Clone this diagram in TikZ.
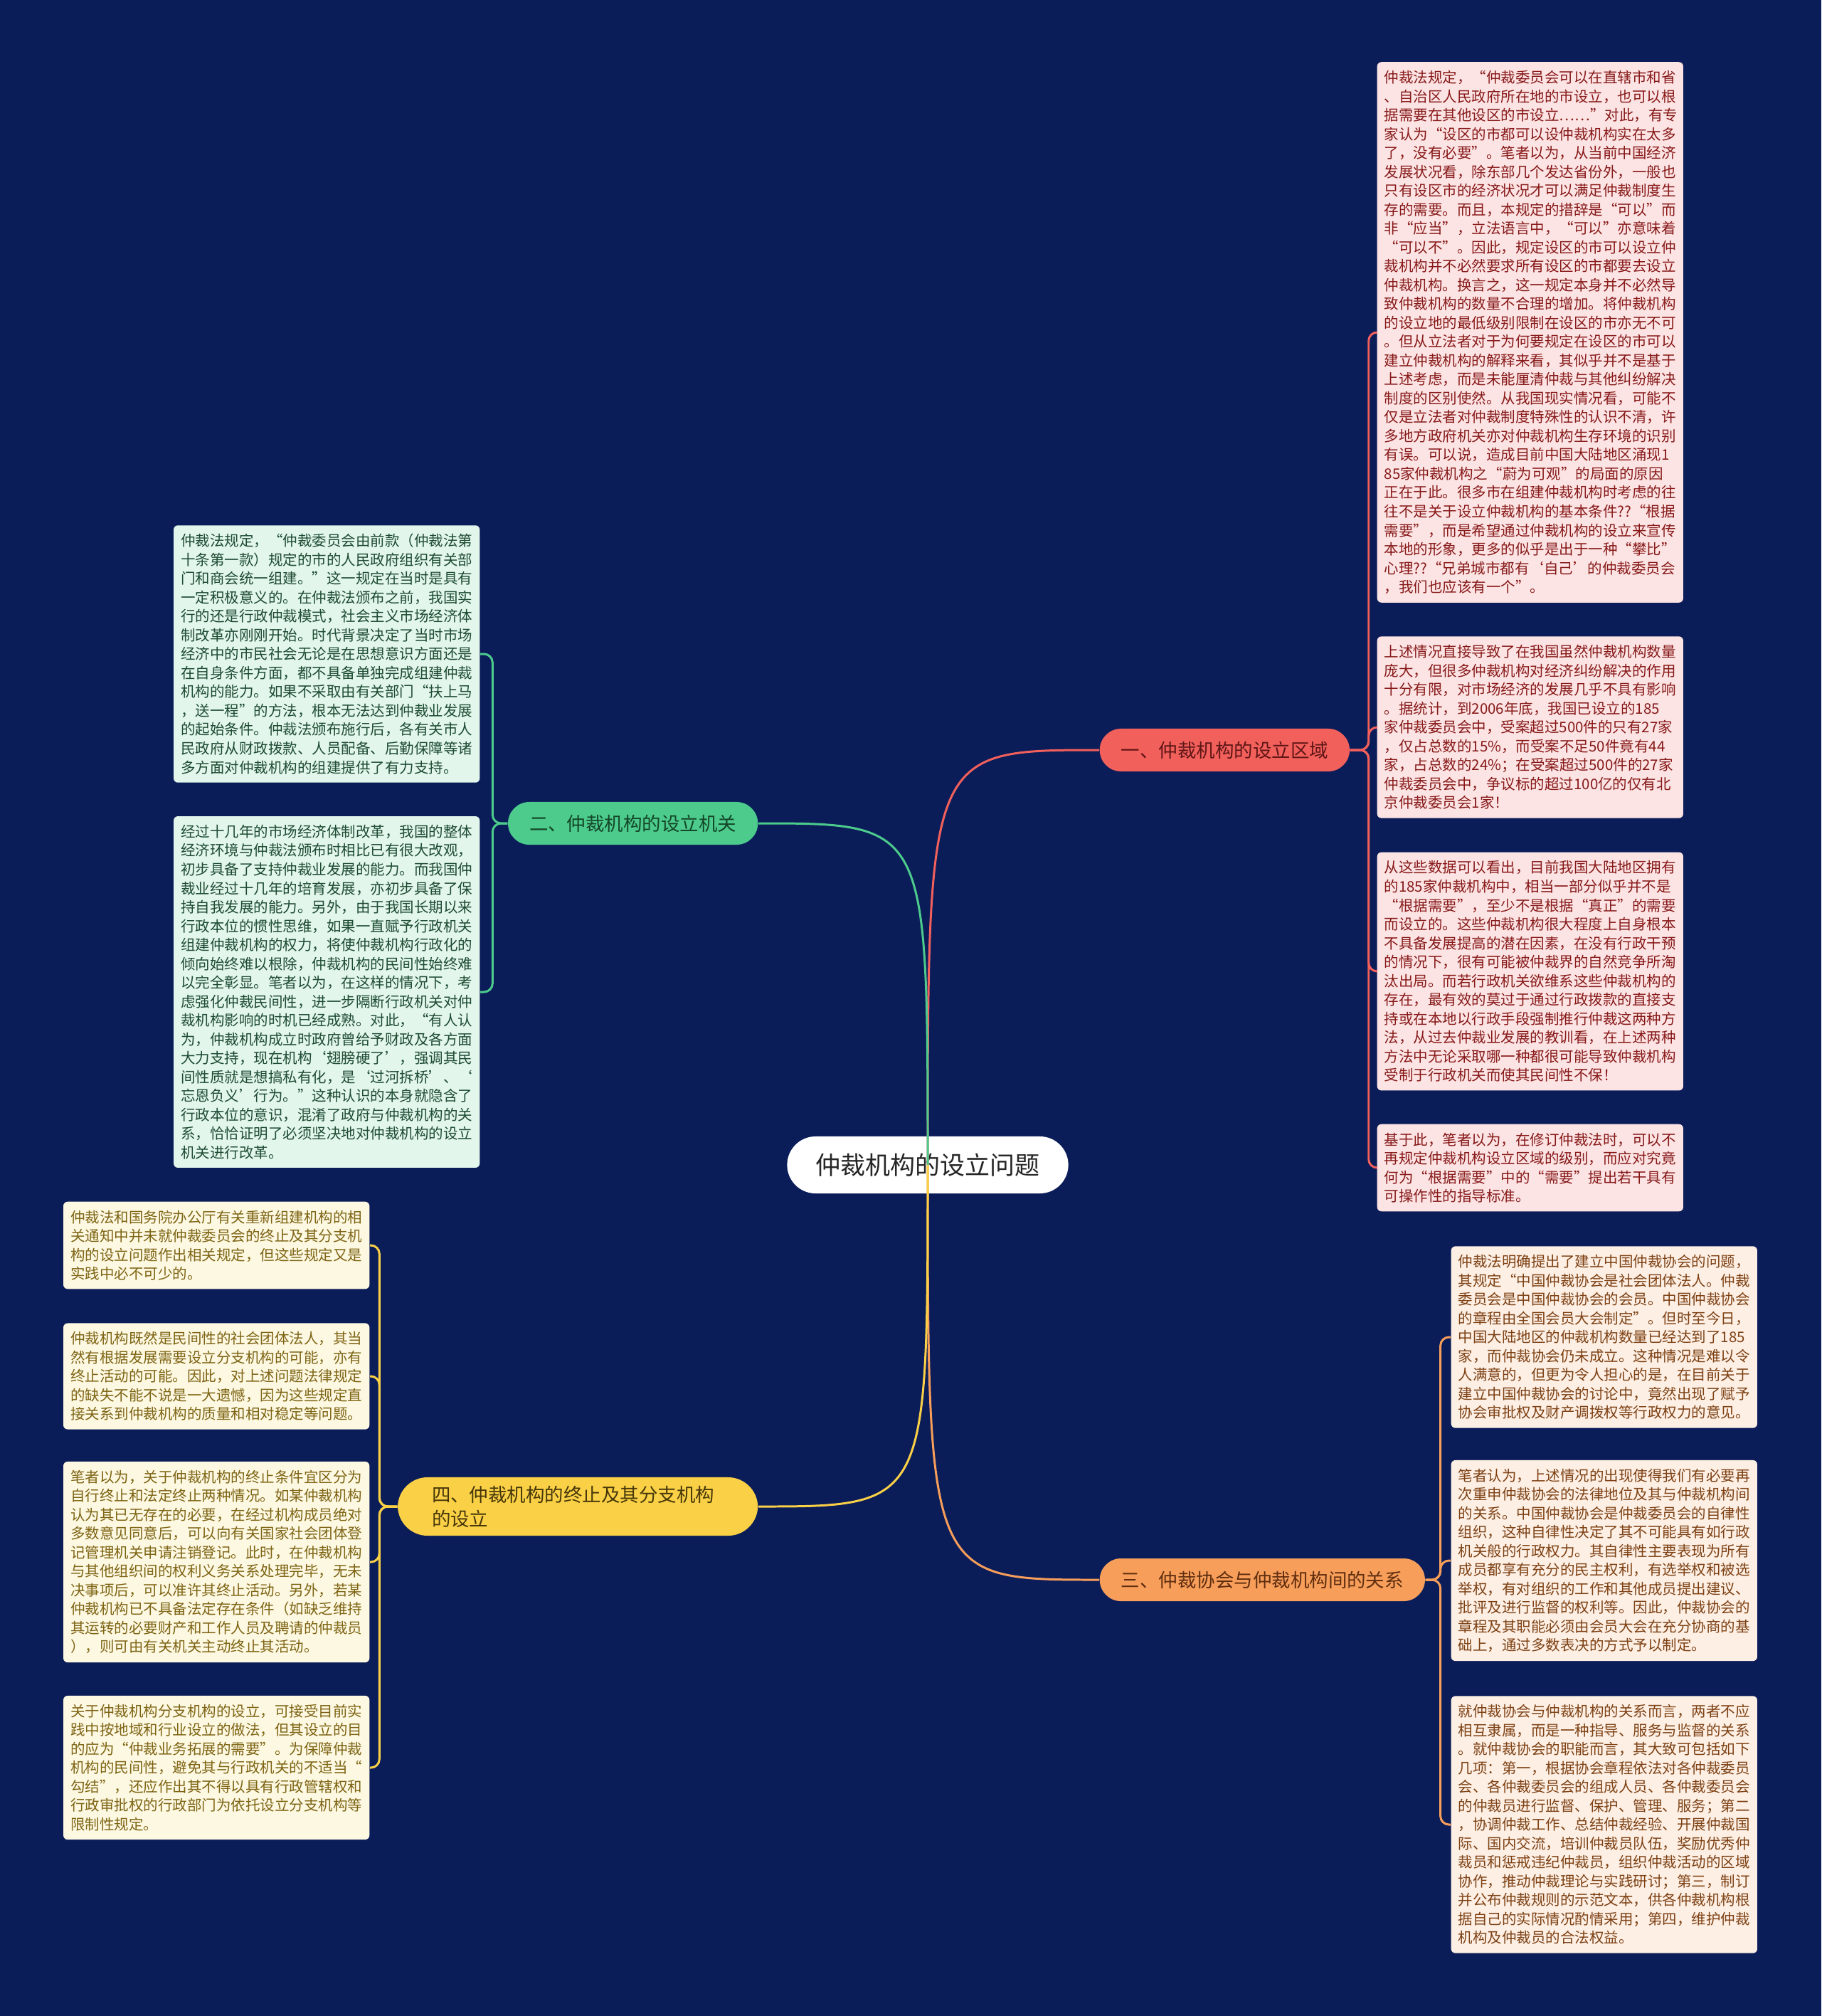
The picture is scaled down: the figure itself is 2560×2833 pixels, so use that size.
\documentclass[tikz,border=0pt]{standalone}
\usepackage{fontspec}
\newfontfamily\cjk{Noto Sans CJK SC}
\definecolor{bgnavy}{RGB}{11,29,89}
\definecolor{redmain}{RGB}{242,96,92}
\definecolor{redleaf}{RGB}{253,228,228}
\definecolor{redtext}{RGB}{135,25,25}
\definecolor{redlabel}{RGB}{95,22,22}
\definecolor{greenmain}{RGB}{76,203,140}
\definecolor{greenleaf}{RGB}{226,246,236}
\definecolor{greentext}{RGB}{30,75,50}
\definecolor{greenlabel}{RGB}{20,70,40}
\definecolor{orangemain}{RGB}{247,158,90}
\definecolor{orangeleaf}{RGB}{253,239,228}
\definecolor{orangetext}{RGB}{125,65,20}
\definecolor{orangelabel}{RGB}{95,45,15}
\definecolor{yellowmain}{RGB}{250,208,70}
\definecolor{yellowleaf}{RGB}{253,248,225}
\definecolor{yellowtext}{RGB}{125,100,20}
\definecolor{yellowlabel}{RGB}{70,55,10}
\tikzset{
  rootnode/.style={fill=white, text=black!85, rounded corners=0.4cm, minimum height=0.8cm, inner xsep=0.4cm, font=\cjk\fontsize{9.96pt}{12pt}\selectfont},
  branch/.style={rounded corners=0.3cm, minimum height=0.6cm, inner xsep=0.3cm, font=\cjk\fontsize{7.53pt}{9.7pt}\selectfont},
  leaf/.style={rounded corners=0.06cm, text width=4.1cm, align=left, inner xsep=0.1cm, inner ysep=0.12cm, font=\cjk\fontsize{5.83pt}{7.54pt}\selectfont},
  link/.style={line width=0.85pt},
}
\begin{document}
\begin{tikzpicture}[x=0.01cm, y=-0.01cm]
            \fill[bgnavy] (0,0) rectangle (2560,2833);

            \node[rootnode] (root) at (1304,1637) {仲裁机构的设立问题};
            \node[branch, fill=redmain, text=redlabel, anchor=west] (quyu) at (1545,1054) {一、仲裁机构的设立区域};
            \node[branch, fill=greenmain, text=greenlabel, anchor=east] (jiguan) at (1066,1157) {二、仲裁机构的设立机关};
            \node[branch, fill=orangemain, text=orangelabel, anchor=west] (xiehui) at (1545,2220) {三、仲裁协会与仲裁机构间的关系};
            \node[branch, fill=yellowmain, text=yellowlabel, anchor=east, text width=4.1cm, align=left, inner xsep=0.48cm, rounded corners=0.42cm] (zhongzhi) at (1066,2117) {四、仲裁机构的终止及其分支机构\\的设立};

            \node[leaf, fill=redleaf, text=redtext, anchor=west] (quyu1) at (1935,467) {仲裁法规定，“仲裁委员会可以在直辖市和省\\
、自治区人民政府所在地的市设立，也可以根\\
据需要在其他设区的市设立……”对此，有专\\
家认为“设区的市都可以设仲裁机构实在太多\\
了，没有必要”。笔者以为，从当前中国经济\\
发展状况看，除东部几个发达省份外，一般也\\
只有设区市的经济状况才可以满足仲裁制度生\\
存的需要。而且，本规定的措辞是“可以”而\\
非“应当”，立法语言中，“可以”亦意味着\\
“可以不”。因此，规定设区的市可以设立仲\\
裁机构并不必然要求所有设区的市都要去设立\\
仲裁机构。换言之，这一规定本身并不必然导\\
致仲裁机构的数量不合理的增加。将仲裁机构\\
的设立地的最低级别限制在设区的市亦无不可\\
。但从立法者对于为何要规定在设区的市可以\\
建立仲裁机构的解释来看，其似乎并不是基于\\
上述考虑，而是未能厘清仲裁与其他纠纷解决\\
制度的区别使然。从我国现实情况看，可能不\\
仅是立法者对仲裁制度特殊性的认识不清，许\\
多地方政府机关亦对仲裁机构生存环境的识别\\
有误。可以说，造成目前中国大陆地区涌现1\\
85家仲裁机构之“蔚为可观”的局面的原因\\
正在于此。很多市在组建仲裁机构时考虑的往\\
往不是关于设立仲裁机构的基本条件??“根据\\
需要”，而是希望通过仲裁机构的设立来宣传\\
本地的形象，更多的似乎是出于一种“攀比”\\
心理??“兄弟城市都有‘自己’的仲裁委员会\\
，我们也应该有一个”。};
            \node[leaf, fill=redleaf, text=redtext, anchor=west] (quyu2) at (1935,1022) {上述情况直接导致了在我国虽然仲裁机构数量\\
庞大，但很多仲裁机构对经济纠纷解决的作用\\
十分有限，对市场经济的发展几乎不具有影响\\
。据统计，到2006年底，我国已设立的185\\
家仲裁委员会中，受案超过500件的只有27家\\
，仅占总数的15\%，而受案不足50件竟有44\\
家，占总数的24\%；在受案超过500件的27家\\
仲裁委员会中，争议标的超过100亿的仅有北\\
京仲裁委员会1家！};
            \node[leaf, fill=redleaf, text=redtext, anchor=west] (quyu3) at (1935,1365) {从这些数据可以看出，目前我国大陆地区拥有\\
的185家仲裁机构中，相当一部分似乎并不是\\
“根据需要”，至少不是根据“真正”的需要\\
而设立的。这些仲裁机构很大程度上自身根本\\
不具备发展提高的潜在因素，在没有行政干预\\
的情况下，很有可能被仲裁界的自然竞争所淘\\
汰出局。而若行政机关欲维系这些仲裁机构的\\
存在，最有效的莫过于通过行政拨款的直接支\\
持或在本地以行政手段强制推行仲裁这两种方\\
法，从过去仲裁业发展的教训看，在上述两种\\
方法中无论采取哪一种都很可能导致仲裁机构\\
受制于行政机关而使其民间性不保！};
            \node[leaf, fill=redleaf, text=redtext, anchor=west] (quyu4) at (1935,1641) {基于此，笔者以为，在修订仲裁法时，可以不\\
再规定仲裁机构设立区域的级别，而应对究竟\\
何为“根据需要”中的“需要”提出若干具有\\
可操作性的指导标准。};

            \node[leaf, fill=greenleaf, text=greentext, anchor=east] (jiguan1) at (675,919) {仲裁法规定，“仲裁委员会由前款（仲裁法第\\
十条第一款）规定的市的人民政府组织有关部\\
门和商会统一组建。”这一规定在当时是具有\\
一定积极意义的。在仲裁法颁布之前，我国实\\
行的还是行政仲裁模式，社会主义市场经济体\\
制改革亦刚刚开始。时代背景决定了当时市场\\
经济中的市民社会无论是在思想意识方面还是\\
在自身条件方面，都不具备单独完成组建仲裁\\
机构的能力。如果不采取由有关部门“扶上马\\
，送一程”的方法，根本无法达到仲裁业发展\\
的起始条件。仲裁法颁布施行后，各有关市人\\
民政府从财政拨款、人员配备、后勤保障等诸\\
多方面对仲裁机构的组建提供了有力支持。};
            \node[leaf, fill=greenleaf, text=greentext, anchor=east] (jiguan2) at (675,1394) {经过十几年的市场经济体制改革，我国的整体\\
经济环境与仲裁法颁布时相比已有很大改观，\\
初步具备了支持仲裁业发展的能力。而我国仲\\
裁业经过十几年的培育发展，亦初步具备了保\\
持自我发展的能力。另外，由于我国长期以来\\
行政本位的惯性思维，如果一直赋予行政机关\\
组建仲裁机构的权力，将使仲裁机构行政化的\\
倾向始终难以根除，仲裁机构的民间性始终难\\
以完全彰显。笔者以为，在这样的情况下，考\\
虑强化仲裁民间性，进一步隔断行政机关对仲\\
裁机构影响的时机已经成熟。对此，“有人认\\
为，仲裁机构成立时政府曾给予财政及各方面\\
大力支持，现在机构‘翅膀硬了’，强调其民\\
间性质就是想搞私有化，是‘过河拆桥’、‘\\
忘恩负义’行为。”这种认识的本身就隐含了\\
行政本位的意识，混淆了政府与仲裁机构的关\\
系，恰恰证明了必须坚决地对仲裁机构的设立\\
机关进行改革。};

            \node[leaf, fill=yellowleaf, text=yellowtext, anchor=east] (zhongzhi1) at (520,1750) {仲裁法和国务院办公厅有关重新组建机构的相\\
关通知中并未就仲裁委员会的终止及其分支机\\
构的设立问题作出相关规定，但这些规定又是\\
实践中必不可少的。};
            \node[leaf, fill=yellowleaf, text=yellowtext, anchor=east] (zhongzhi2) at (520,1934) {仲裁机构既然是民间性的社会团体法人，其当\\
然有根据发展需要设立分支机构的可能，亦有\\
终止活动的可能。因此，对上述问题法律规定\\
的缺失不能不说是一大遗憾，因为这些规定直\\
接关系到仲裁机构的质量和相对稳定等问题。};
            \node[leaf, fill=yellowleaf, text=yellowtext, anchor=east] (zhongzhi3) at (520,2195) {笔者以为，关于仲裁机构的终止条件宜区分为\\
自行终止和法定终止两种情况。如某仲裁机构\\
认为其已无存在的必要，在经过机构成员绝对\\
多数意见同意后，可以向有关国家社会团体登\\
记管理机关申请注销登记。此时，在仲裁机构\\
与其他组织间的权利义务关系处理完毕，无未\\
决事项后，可以准许其终止活动。另外，若某\\
仲裁机构已不具备法定存在条件（如缺乏维持\\
其运转的必要财产和工作人员及聘请的仲裁员\\
），则可由有关机关主动终止其活动。};
            \node[leaf, fill=yellowleaf, text=yellowtext, anchor=east] (zhongzhi4) at (520,2484) {关于仲裁机构分支机构的设立，可接受目前实\\
践中按地域和行业设立的做法，但其设立的目\\
的应为“仲裁业务拓展的需要”。为保障仲裁\\
机构的民间性，避免其与行政机关的不适当“\\
勾结”，还应作出其不得以具有行政管辖权和\\
行政审批权的行政部门为依托设立分支机构等\\
限制性规定。};

            \node[leaf, fill=orangeleaf, text=orangetext, anchor=west] (xiehui1) at (2039,1879) {仲裁法明确提出了建立中国仲裁协会的问题，\\
其规定“中国仲裁协会是社会团体法人。仲裁\\
委员会是中国仲裁协会的会员。中国仲裁协会\\
的章程由全国会员大会制定”。但时至今日，\\
中国大陆地区的仲裁机构数量已经达到了185\\
家，而仲裁协会仍未成立。这种情况是难以令\\
人满意的，但更为令人担心的是，在目前关于\\
建立中国仲裁协会的讨论中，竟然出现了赋予\\
协会审批权及财产调拨权等行政权力的意见。};
            \node[leaf, fill=orangeleaf, text=orangetext, anchor=west] (xiehui2) at (2039,2193) {笔者认为，上述情况的出现使得我们有必要再\\
次重申仲裁协会的法律地位及其与仲裁机构间\\
的关系。中国仲裁协会是仲裁委员会的自律性\\
组织，这种自律性决定了其不可能具有如行政\\
机关般的行政权力。其自律性主要表现为所有\\
成员都享有充分的民主权利，有选举权和被选\\
举权，有对组织的工作和其他成员提出建议、\\
批评及进行监督的权利等。因此，仲裁协会的\\
章程及其职能必须由会员大会在充分协商的基\\
础上，通过多数表决的方式予以制定。};
            \node[leaf, fill=orangeleaf, text=orangetext, anchor=west] (xiehui3) at (2039,2564) {就仲裁协会与仲裁机构的关系而言，两者不应\\
相互隶属，而是一种指导、服务与监督的关系\\
。就仲裁协会的职能而言，其大致可包括如下\\
几项：第一，根据协会章程依法对各仲裁委员\\
会、各仲裁委员会的组成人员、各仲裁委员会\\
的仲裁员进行监督、保护、管理、服务；第二\\
，协调仲裁工作、总结仲裁经验、开展仲裁国\\
际、国内交流，培训仲裁员队伍，奖励优秀仲\\
裁员和惩戒违纪仲裁员，组织仲裁活动的区域\\
协作，推动仲裁理论与实践研讨；第三，制订\\
并公布仲裁规则的示范文本，供各仲裁机构根\\
据自己的实际情况酌情采用；第四，维护仲裁\\
机构及仲裁员的合法权益。};

            \draw[link, redmain] (root.center) .. controls (root.center |- quyu.west) and (root.center |- quyu.west) .. (quyu.west);
            \draw[link, greenmain] (root.center) .. controls (root.center |- jiguan.east) and (root.center |- jiguan.east) .. (jiguan.east);
            \draw[link, orangemain] (root.center) .. controls (root.center |- xiehui.west) and (root.center |- xiehui.west) .. (xiehui.west);
            \draw[link, yellowmain] (root.center) .. controls (root.center |- zhongzhi.east) and (root.center |- zhongzhi.east) .. (zhongzhi.east);

            \draw[link, redmain, rounded corners=0.12cm] (quyu.east) -- ++(26,0) |- (quyu1.west); \draw[link, redmain, rounded corners=0.12cm] (quyu.east) -- ++(26,0) |- (quyu2.west);
            \draw[link, redmain, rounded corners=0.12cm] (quyu.east) -- ++(26,0) |- (quyu3.west); \draw[link, redmain, rounded corners=0.12cm] (quyu.east) -- ++(26,0) |- (quyu4.west);
            \draw[link, greenmain, rounded corners=0.12cm] (jiguan.west) -- ++(-21,0) |- (jiguan1.east); \draw[link, greenmain, rounded corners=0.12cm] (jiguan.west) -- ++(-21,0) |- (jiguan2.east);
            \draw[link, yellowmain, rounded corners=0.12cm] (zhongzhi.west) -- ++(-25,0) |- (zhongzhi1.east); \draw[link, yellowmain, rounded corners=0.12cm] (zhongzhi.west) -- ++(-25,0) |- (zhongzhi2.east);
            \draw[link, yellowmain, rounded corners=0.12cm] (zhongzhi.west) -- ++(-25,0) |- (zhongzhi3.east); \draw[link, yellowmain, rounded corners=0.12cm] (zhongzhi.west) -- ++(-25,0) |- (zhongzhi4.east);
            \draw[link, orangemain, rounded corners=0.12cm] (xiehui.east) -- ++(21,0) |- (xiehui1.west); \draw[link, orangemain, rounded corners=0.12cm] (xiehui.east) -- ++(21,0) |- (xiehui2.west);
            \draw[link, orangemain, rounded corners=0.12cm] (xiehui.east) -- ++(21,0) |- (xiehui3.west);
        \end{tikzpicture}
\end{document}
